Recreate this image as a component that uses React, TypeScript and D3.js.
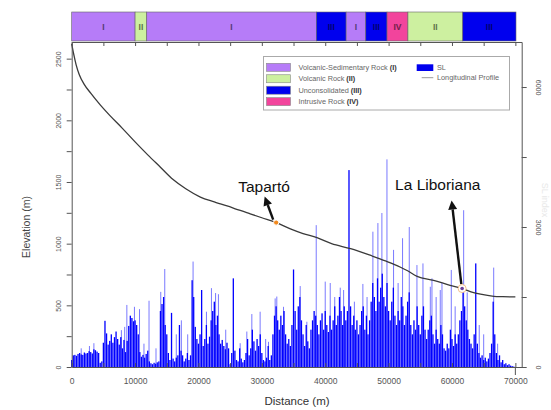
import React, { useEffect, useRef } from 'react';
import * as d3 from 'd3';

// SL index sampled every 250 m along the river (dense dark bars)
const SL_STEP = 250;
const slValues = [
  150, 250, 260, 240, 280, 300, 270, 260, 310, 290, 300, 340, 320, 290, 380, 360, 330, 300, 90, 120,
  520, 990, 720, 480, 560, 700, 520, 640, 760, 600, 480, 640, 400, 580, 320, 560, 880, 1100, 1050, 980,
  1000, 900, 700, 320, 220, 260, 200, 280, 350, 120, 80, 60, 90, 70, 100, 120, 1200, 1350, 1500, 900,
  700, 300, 150, 1160, 180, 120, 200, 250, 900, 350, 250, 120, 180, 300, 150, 250, 1860, 1500, 860, 600,
  500, 700, 1650, 450, 600, 900, 500, 650, 1000, 1200, 1400, 900, 1100, 700, 500, 580, 450, 380, 520, 400,
  60, 300, 1900, 350, 150, 120, 400, 180, 100, 150, 300, 600, 250, 400, 800, 550, 350, 600, 450, 700,
  300, 150, 120, 200, 450, 150, 250, 700, 1100, 1300, 1000, 800, 1100, 900, 1200, 700, 500, 600, 450, 900,
  2090, 1200, 800, 1300, 1500, 1000, 700, 450, 900, 550, 400, 800, 1000, 1200, 1100, 900, 700, 1000, 1150, 800,
  1200, 900, 750, 1100, 800, 1000, 1300, 900, 1100, 1500, 1200, 900, 1300, 1000, 1200, 4220, 1300, 900, 1100, 800,
  1000, 700, 900, 1200, 1300, 800, 1100, 700, 1000, 1400, 1800, 1500, 1200, 1900, 1400, 1700, 2000, 1500, 1300, 1800,
  1200, 1000, 1400, 1700, 1100, 900, 1200, 1000, 1500, 1300, 900, 1100, 1400, 1600, 900, 700, 1000, 800, 1300, 900,
  700, 1100, 1300, 800, 600, 800, 1000, 1100, 700, 500, 800, 600, 500, 900, 700, 400, 350, 500, 400, 800,
  600, 450, 700, 500, 700, 1000, 1200, 1600, 1300, 1000, 800, 600, 500, 400, 700, 2220, 500, 300, 200, 250,
  150, 200, 120, 180, 300, 500, 1400, 700, 300, 150, 250, 100, 150, 60, 80, 40, 60, 30, 20, 10,
  0,
];

// thin isolated SL peaks [distance m, SL]
const slSpikes = [
  [1500, 400], [2800, 450], [3500, 510], [7840, 790], [8360, 860], [8700, 1330], [9900, 1290],
  [10700, 1240], [11400, 500], [12200, 1420], [13300, 400], [14050, 1610], [14680, 2100],
  [16500, 700], [17300, 1000], [18300, 700], [19150, 2260], [21260, 1185], [22050, 1690],
  [22700, 1585], [23150, 1560], [24300, 800], [26580, 510], [27630, 760], [28420, 1135],
  [29730, 1185], [30600, 600], [31050, 540], [32100, 1470], [32360, 1510], [33420, 1290],
  [36050, 1735], [37100, 970], [38580, 3040], [40000, 1830], [40790, 1800], [41500, 1500],
  [42370, 1700], [42900, 1650], [44600, 1400], [45940, 1780], [46600, 1500], [47520, 2900],
  [48310, 3085], [48940, 3300], [49740, 4450], [50780, 2510], [51500, 1800], [52200, 2760],
  [53260, 3000], [54470, 2185], [55420, 2220], [56580, 1720], [56840, 1900], [57500, 1500],
  [58150, 1650], [58420, 1800], [59890, 2080], [60500, 1300], [61840, 3360], [62400, 1600],
  [64300, 900], [65000, 700], [66580, 2130], [67200, 500],
];

// longitudinal profile [distance m, elevation m]
const profile = [
  [0, 2620], [300, 2540], [700, 2450], [1200, 2370], [2000, 2290], [3000, 2220], [4500, 2125],
  [6000, 2040], [8000, 1935], [10000, 1825], [12000, 1720], [14000, 1620], [16000, 1520],
  [18000, 1445], [20300, 1378], [22500, 1338], [25500, 1289], [28000, 1245], [30000, 1210],
  [32260, 1171], [34500, 1120], [36500, 1082], [38700, 1049], [41000, 1000], [44000, 960],
  [47400, 900], [49500, 860], [51800, 811], [53000, 780], [54500, 735], [57100, 703],
  [59700, 662], [61600, 636], [63000, 610], [64500, 590], [66600, 573], [68000, 570], [70000, 568],
];

// lithology along the river [from, to, unit]
const rockSegments = [
  [0, 10000, 'I'], [10000, 11840, 'II'], [11840, 38600, 'I'], [38600, 43300, 'III'],
  [43300, 46400, 'I'], [46400, 49750, 'III'], [49750, 53050, 'IV'], [53050, 61700, 'II'],
  [61700, 70100, 'III'],
];
const rockLegend = [
  ['I', 'Volcanic-Sedimentary Rock ', '(I)'],
  ['II', 'Volcanic Rock ', '(II)'],
  ['III', 'Unconsolidated ', '(III)'],
  ['IV', 'Intrusive Rock ', '(IV)'],
];
const places = [
  ['Tapartó', 32260, 1171],
  ['La Liboriana', 61600, 636],
];

const elevTicks = d3.range(0, 2501, 250);
const slTicks = [0, 1500, 3000, 4500, 6000];
const distTicks = d3.range(0, 70001, 5000);

const rockColor = { I: '#b67cf8', II: '#cdf0a0', III: '#0000ee', IV: '#f2449c' };
const FONT = '"Liberation Sans", Arial, sans-serif';

function drawArrow(g, x1, y1, x2, y2) {
  const ang = Math.atan2(y2 - y1, x2 - x1);
  const len = 9, half = 4.5;
  const bx = x2 - len * Math.cos(ang), by = y2 - len * Math.sin(ang);
  g.append('line')
    .attr('x1', x1).attr('y1', y1).attr('x2', bx).attr('y2', by)
    .attr('stroke', '#111').attr('stroke-width', 2.4);
  g.append('path')
    .attr('d', `M${x2},${y2}L${bx + half * Math.sin(ang)},${by - half * Math.cos(ang)}L${bx - half * Math.sin(ang)},${by + half * Math.cos(ang)}Z`)
    .attr('fill', '#111');
}

export default function App() {
  const ref = useRef(null);

  useEffect(() => {
    const svg = d3.select(ref.current);
    svg.selectAll('*').remove();

    const x = d3.scaleLinear().domain([0, 71000]).range([71.7, 521.7]);
    const yL = d3.scaleLinear().domain([0, 2635]).range([367, 42]);
    const yR = d3.scaleLinear().domain([0, 6965]).range([367, 42]);

    svg.append('rect').attr('width', 551).attr('height', 410).attr('fill', '#fff');

    // SL bars
    svg.append('g').selectAll('rect').data(slSpikes).join('rect')
      .attr('x', d => x(d[0]) - 0.5).attr('width', 1)
      .attr('y', d => yR(d[1])).attr('height', d => yR(0) - yR(d[1]))
      .attr('fill', '#4d4dff').attr('opacity', 0.75);
    svg.append('g').selectAll('rect').data(slValues).join('rect')
      .attr('x', (d, i) => x(i * SL_STEP) - 0.65).attr('width', 1.3)
      .attr('y', d => yR(d)).attr('height', d => yR(0) - yR(d))
      .attr('fill', '#0000ff');

    // profile
    svg.append('path')
      .datum(profile)
      .attr('d', d3.line().curve(d3.curveMonotoneX).x(d => x(d[0])).y(d => yL(d[1])))
      .attr('fill', 'none').attr('stroke', '#3a3a3a').attr('stroke-width', 1.3);

    const styleAxis = g => {
      g.selectAll('path,line').attr('stroke', '#555');
      g.selectAll('text').attr('fill', '#555').attr('font-family', FONT);
    };

    // left axis
    svg.append('g').attr('transform', 'translate(71.7,0)')
      .call(d3.axisLeft(yL).tickValues(elevTicks).tickSize(5).tickSizeOuter(0)
        .tickFormat(d => (d % 500 === 0 ? String(d) : '')))
      .call(styleAxis)
      .call(g => g.selectAll('text').attr('x', 0).attr('dy', 0)
        .attr('font-size', 7).attr('text-anchor', 'middle')
        .attr('transform', 'translate(-11,0) rotate(-90)'));

    // right axis
    svg.append('g').attr('transform', 'translate(521.7,0)')
      .call(d3.axisRight(yR).tickValues(slTicks).tickSize(5).tickSizeOuter(0)
        .tickFormat(d => (d % 3000 === 0 ? String(d) : '')))
      .call(styleAxis)
      .call(g => g.selectAll('text').attr('x', 0).attr('dy', 0)
        .attr('font-size', 7).attr('text-anchor', 'middle')
        .attr('transform', 'translate(14,0) rotate(90)'));

    // bottom axis
    svg.append('g').attr('transform', 'translate(0,367)')
      .call(d3.axisBottom(x).tickValues(distTicks).tickSize(-4).tickSizeOuter(0).tickPadding(11)
        .tickFormat(d => (d % 10000 === 0 ? String(d) : '')))
      .call(styleAxis)
      .call(g => g.selectAll('text').attr('font-size', 8.5));
    svg.append('line')
      .attr('x1', x(70000)).attr('x2', x(70000)).attr('y1', 367).attr('y2', 375)
      .attr('stroke', '#555');

    // top axis
    svg.append('g').attr('transform', 'translate(0,42)')
      .call(d3.axisTop(x).tickValues(distTicks).tickSize(-4).tickSizeOuter(0).tickFormat(() => ''))
      .call(styleAxis);

    // axis titles
    svg.append('text').attr('transform', 'translate(30,227) rotate(-90)')
      .attr('text-anchor', 'middle').attr('font-family', FONT).attr('font-size', 10.5)
      .attr('fill', '#444').text('Elevation (m)');
    svg.append('text').attr('x', 297).attr('y', 405)
      .attr('text-anchor', 'middle').attr('font-family', FONT).attr('font-size', 11.5)
      .attr('fill', '#333').text('Distance (m)');
    svg.append('text').attr('transform', 'translate(542,200) rotate(90)')
      .attr('text-anchor', 'middle').attr('font-family', FONT).attr('font-size', 9)
      .attr('fill', '#e8e8e8').text('SL index');

    // lithology bar
    const bar = svg.append('g');
    bar.selectAll('rect').data(rockSegments).join('rect')
      .attr('x', d => x(d[0])).attr('width', d => x(d[1]) - x(d[0]))
      .attr('y', 12).attr('height', 29)
      .attr('fill', d => rockColor[d[2]]).attr('stroke', '#666').attr('stroke-width', 0.6);
    bar.selectAll('text').data(rockSegments).join('text')
      .attr('x', d => (x(d[0]) + x(d[1])) / 2).attr('y', 29.8)
      .attr('text-anchor', 'middle').attr('font-family', FONT).attr('font-size', 8.5)
      .attr('font-weight', 'bold').attr('fill', '#000').attr('opacity', 0.55)
      .text(d => d[2]);

    // legend
    const lg = svg.append('g');
    lg.append('rect').attr('x', 263.5).attr('y', 56.5).attr('width', 246).attr('height', 53.5)
      .attr('fill', '#fff').attr('stroke', '#aaa').attr('stroke-width', 1);
    rockLegend.forEach((r, i) => {
      const cy = 67.3 + i * 11.45;
      lg.append('rect').attr('x', 266.5).attr('y', cy - 4).attr('width', 24).attr('height', 8)
        .attr('fill', rockColor[r[0]]).attr('stroke', '#888').attr('stroke-width', 0.6);
      const t = lg.append('text').attr('x', 298.5).attr('y', cy + 2.6)
        .attr('font-family', FONT).attr('font-size', 7.3).attr('fill', '#666');
      t.append('tspan').text(r[1]);
      t.append('tspan').attr('font-weight', 'bold').attr('fill', '#333').text(r[2]);
    });
    lg.append('rect').attr('x', 416.7).attr('y', 64.3).attr('width', 16.6).attr('height', 6.7)
      .attr('fill', '#0000ee');
    lg.append('text').attr('x', 437).attr('y', 70.3).attr('font-family', FONT)
      .attr('font-size', 7.3).attr('fill', '#666').text('SL');
    lg.append('line').attr('x1', 421.7).attr('x2', 433.3).attr('y1', 77.7).attr('y2', 77.7)
      .attr('stroke', '#999').attr('stroke-width', 1);
    lg.append('text').attr('x', 437).attr('y', 80.3).attr('font-family', FONT)
      .attr('font-size', 7.3).attr('fill', '#666').text('Longitudinal Profile');

    // places
    const ann = svg.append('g');
    const [tap, lib] = places;
    const tx = x(tap[1]), ty = yL(tap[2]);
    drawArrow(ann, tx - 3, ty - 3, tx - 11.5, ty - 26);
    ann.append('circle').attr('cx', tx).attr('cy', ty).attr('r', 2.6)
      .attr('fill', '#f28a1e').attr('stroke', '#fff').attr('stroke-width', 1);
    ann.append('text').attr('x', tx - 38).attr('y', ty - 30.5)
      .attr('font-family', FONT).attr('font-size', 15.5).attr('fill', '#111').text(tap[0]);

    const lx = x(lib[1]), ly = yL(lib[2]);
    drawArrow(ann, lx - 0.8, ly - 4.5, lx - 10.5, ly - 88);
    ann.append('circle').attr('cx', lx).attr('cy', ly).attr('r', 4)
      .attr('fill', '#fff').attr('stroke', '#f0b070').attr('stroke-width', 0.8);
    ann.append('circle').attr('cx', lx).attr('cy', ly).attr('r', 1.8).attr('fill', '#6a3d9a');
    ann.append('text').attr('x', lx - 67).attr('y', ly - 99)
      .attr('font-family', FONT).attr('font-size', 15.5).attr('fill', '#111').text(lib[0]);
  }, []);

  return (
    <svg ref={ref} width={551} height={410}
      style={{ position: 'absolute', left: 0, top: 0, display: 'block' }} />
  );
}
